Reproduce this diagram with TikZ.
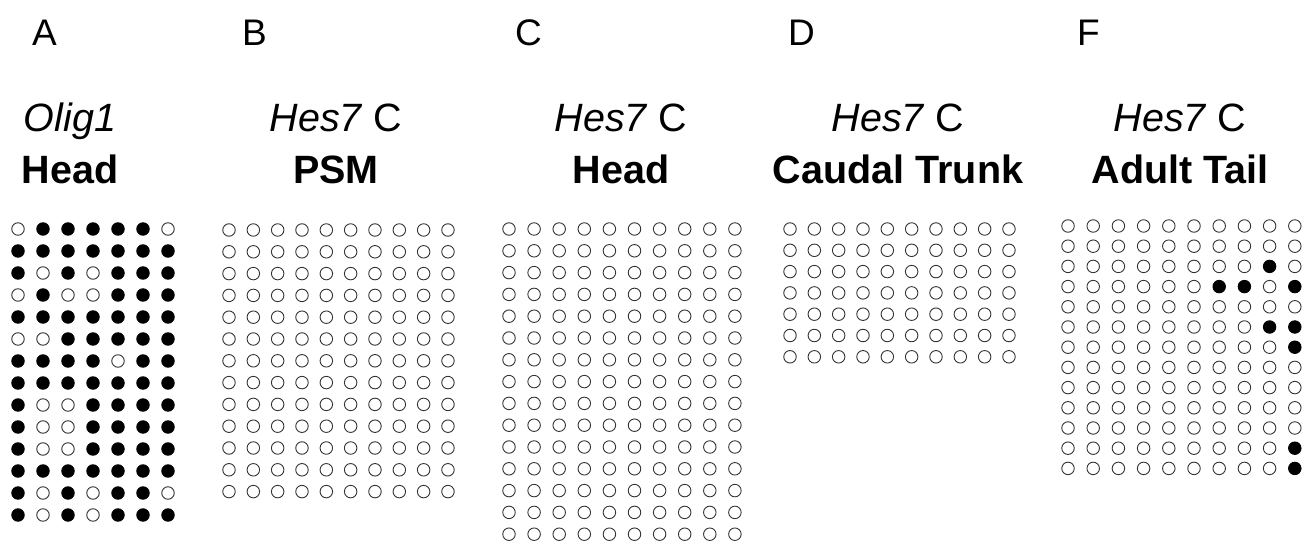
\documentclass[tikz,border=0pt]{standalone}
\usepackage{fontspec}
\setmainfont{Liberation Sans}
\begin{document}
\begin{tikzpicture}[x=1pt,y=-1pt,
  dot0/.style={circle,draw=black!80,line width=0.9pt,fill=white,minimum size=12.5pt,inner sep=0pt},
  dot1/.style={circle,draw=black,fill=black,line width=0.9pt,minimum size=12.5pt,inner sep=0pt},
  panellabel/.style={anchor=base west,font=\fontsize{37}{37}\selectfont,inner sep=0pt},
  gene/.style={anchor=base,font=\fontsize{39.5}{40}\selectfont,inner sep=0pt},
  tissue/.style={anchor=base,font=\fontsize{39.5}{40}\selectfont\bfseries,inner sep=0pt}]
\useasboundingbox (0,0) rectangle (1312,545);
\newcommand\patgrid[6]{%
  \foreach \rw [count=\r] in {#6} {
    \foreach \v [count=\c] in \rw {
      \node[dot\v] (#1-\r-\c) at ({#2+(\c-1)*#3},{#4+(\r-1)*#5}) {};
    }
  }}
\newcommand\opengrid[7]{%
  \foreach \r in {1,...,#7} {
    \foreach \c in {1,...,#6} {
      \node[dot0] (#1-\r-\c) at ({#2+(\c-1)*#3},{#4+(\r-1)*#5}) {};
    }
  }}
% panel letters
\node[panellabel] (labA) at (32,46) {A};
\node[panellabel] (labB) at (242,46) {B};
\node[panellabel] (labC) at (515,46) {C};
\node[panellabel] (labD) at (788,46) {D};
\node[panellabel] (labF) at (1077,46) {F};
% titles
\node[gene] (tA1) at (70,132) {\itshape Olig1};
\node[tissue] (tA2) at (70,184) {Head};
\node[gene] (tB1) at (336,132) {\textit{Hes7} C};
\node[tissue] (tB2) at (336,184) {PSM};
\node[gene] (tC1) at (621,132) {\textit{Hes7} C};
\node[tissue] (tC2) at (621,184) {Head};
\node[gene] (tD1) at (898,132) {\textit{Hes7} C};
\node[tissue] (tD2) at (898,184) {Caudal Trunk};
\node[gene] (tF1) at (1180,132) {\textit{Hes7} C};
\node[tissue] (tF2) at (1180,184) {Adult Tail};
% grids
\patgrid{A}{18}{25}{229}{22}{
  {0,1,1,1,1,1,0},
  {1,1,1,1,1,1,1},
  {1,0,1,0,1,1,1},
  {0,1,0,0,1,1,1},
  {1,1,1,1,1,1,1},
  {0,0,1,1,1,1,1},
  {1,1,1,1,0,1,1},
  {1,1,1,1,1,1,1},
  {1,0,0,1,1,1,1},
  {1,0,0,1,1,1,1},
  {1,0,0,1,1,1,1},
  {1,1,1,1,1,1,1},
  {1,0,1,0,1,1,0},
  {1,0,1,0,1,1,1}}
\opengrid{B}{229}{24.33}{230}{21.8}{10}{13}
\opengrid{C}{509}{25.1}{229}{21.8}{10}{15}
\opengrid{D}{790}{24.33}{229}{21.3}{10}{7}
\patgrid{F}{1068}{25.2}{226}{20.2}{
  {0,0,0,0,0,0,0,0,0,0},
  {0,0,0,0,0,0,0,0,0,0},
  {0,0,0,0,0,0,0,0,1,0},
  {0,0,0,0,0,0,1,1,0,1},
  {0,0,0,0,0,0,0,0,0,0},
  {0,0,0,0,0,0,0,0,1,1},
  {0,0,0,0,0,0,0,0,0,1},
  {0,0,0,0,0,0,0,0,0,0},
  {0,0,0,0,0,0,0,0,0,0},
  {0,0,0,0,0,0,0,0,0,0},
  {0,0,0,0,0,0,0,0,0,0},
  {0,0,0,0,0,0,0,0,0,1},
  {0,0,0,0,0,0,0,0,0,1}}
\end{tikzpicture}
\end{document}
